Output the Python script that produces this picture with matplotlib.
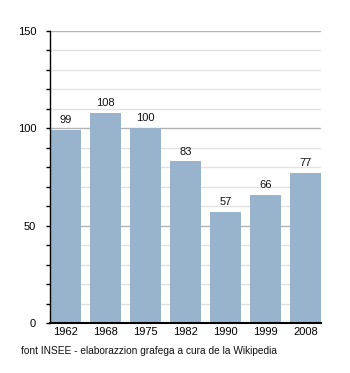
import numpy as np
import matplotlib.pyplot as plt

years = ["1962", "1968", "1975", "1982", "1990", "1999", "2008"]
population = [99, 108, 100, 83, 57, 66, 77]

plt.rcParams['font.family'] = ['Liberation Sans', 'DejaVu Sans']

fig = plt.figure(figsize=(3.5, 3.73), dpi=100)
ax = fig.add_axes([50 / 350, 1 - 323 / 373, 271 / 350, 292 / 373])

x = np.arange(len(years))
width = 0.775
ax.bar(x, population, width=width, color='#98b3cc', zorder=3)
for xi, v in zip(x, population):
    ax.text(xi, v + 2.5, str(v), ha='center', va='bottom', fontsize=8, color='#111111')

ax.set_xlim(-width / 2, len(years) - 1 + width / 2)
ax.set_ylim(0, 150)

# grid: light minor every 10, darker major every 50
for y in range(10, 151, 10):
    c = '#b3b3b3' if y % 50 == 0 else '#e2e2e2'
    ax.axhline(y, color=c, lw=1, zorder=1)

ax.set_yticks([0, 50, 100, 150])
ax.set_yticks(range(0, 151, 10), minor=True)
ax.tick_params(axis='y', which='major', length=3, width=1, labelsize=8, pad=7)
ax.tick_params(axis='y', which='minor', length=3, width=1)
ax.set_xticks(x)
ax.set_xticklabels(years)
ax.tick_params(axis='x', length=0, labelsize=8, pad=3)

for s in ['top', 'right']:
    ax.spines[s].set_visible(False)
ax.spines['left'].set_linewidth(1)
ax.spines['bottom'].set_linewidth(1.5)
ax.spines['left'].set_zorder(4)
ax.spines['bottom'].set_zorder(4)

fig.text(21 / 350, 1 - 351 / 373, "font INSEE - elaborazzion grafega a cura de la Wikipedia",
         fontsize=7.3, va='center', ha='left', color='#111111')

fig.savefig('out.png', dpi=100)
